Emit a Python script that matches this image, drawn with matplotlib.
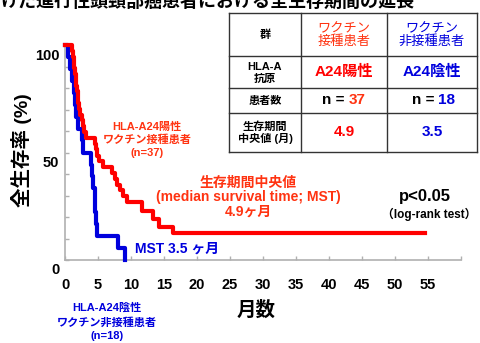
import matplotlib
matplotlib.use("Agg")
import matplotlib.pyplot as plt
import matplotlib.transforms as mtransforms

plt.rcParams['font.family'] = ['Liberation Sans', 'Noto Sans CJK JP', 'DejaVu Sans']

# Kaplan-Meier step points (months, % surviving)
vacc_months = [0, 1.0, 1.2, 1.3, 1.4, 1.5, 1.6, 1.7, 1.8, 1.9, 2.0, 2.1, 2.3, 2.5,
               2.7, 2.9, 3.2, 4.5, 4.7, 4.9, 5.2, 5.7, 7.1, 7.5, 7.9, 8.3, 8.8,
               9.4, 11.7, 13.4, 14.2, 16.4, 54.5]
vacc_surv = [100, 97.3, 94.6, 91.9, 89.2, 86.5, 83.8, 81.1, 78.4, 75.7, 73.0, 70.3,
             67.6, 64.9, 62.2, 59.5, 56.8, 54.1, 51.4, 48.6, 45.9, 43.2, 40.5, 37.8,
             35.1, 32.4, 29.7, 27.0, 23.0, 18.9, 15.5, 12.5, 12.5]

ctrl_months = [0, 0.5, 0.8, 1.1, 1.3, 1.5, 1.7, 2.0, 2.6, 2.8, 3.9, 4.1, 4.3, 4.5,
               4.6, 4.7, 4.8, 8.0, 9.1]
ctrl_surv = [100, 94.4, 88.9, 83.3, 77.8, 72.2, 66.7, 61.1, 55.6, 50.0, 44.4, 38.9,
             33.3, 27.8, 22.2, 16.7, 11.1, 5.6, 0]

x_ticks = list(range(0, 61, 5))
x_labels = [str(v) for v in range(0, 56, 5)] + ['']
y_ticks = list(range(0, 101, 10))
y_labels = ['0', '', '', '', '', '50', '', '', '', '', '100']

RED = '#ff0000'
ORANGE = '#ff3311'
BLUE = '#0000dd'

fig = plt.figure(figsize=(4.8, 3.43), dpi=100)
ax = fig.add_axes([65 / 480, 1 - 260 / 343, 396 / 480, 215 / 343])

ax.step(ctrl_months, ctrl_surv, where='post', color=BLUE, lw=3, clip_on=False, zorder=3)
ax.step(vacc_months, vacc_surv, where='post', color=RED, lw=3, clip_on=False, zorder=4)

ax.set_xlim(0, 60)
ax.set_ylim(0, 100)
for side in ('top', 'right'):
    ax.spines[side].set_visible(False)
for side in ('left', 'bottom'):
    ax.spines[side].set_color('#b0b0b0')
    ax.spines[side].set_linewidth(1.2)
ax.set_xticks(x_ticks, x_labels)
ax.set_yticks(y_ticks, y_labels)
ax.tick_params(direction='in', color='#b0b0b0', length=3, width=1,
               labelsize=10.5, pad=4)
ax.tick_params(axis='x', pad=13)
for lab in ax.get_xticklabels() + ax.get_yticklabels():
    lab.set_fontweight('bold')
shift = mtransforms.ScaledTranslation(0, -0.09, fig.dpi_scale_trans)
for lab in ax.get_yticklabels():
    lab.set_transform(lab.get_transform() + shift)

# overlay in pixel coordinates for the annotations and the table
ov = fig.add_axes([0, 0, 1, 1], zorder=5)
ov.set_xlim(0, 480)
ov.set_ylim(343, 0)
ov.axis('off')

ov.text(0, 7, 'けた進行性頭頸部癌患者における全生存期間の延長', fontsize=13,
        fontweight='bold', ha='left', va='baseline')
ov.text(22, 150, '全生存率 (%)', fontsize=14, fontweight='bold', rotation=90,
        ha='center', va='center')
ov.text(256, 310, '月数', fontsize=14, fontweight='bold', ha='center', va='center')

ov.text(147, 140, 'HLA-A24陽性\nワクチン接種患者\n(n=37)', color=ORANGE, fontsize=8,
        fontweight='bold', ha='center', va='center', linespacing=1.35)
ov.text(248, 197, '生存期間中央値\n(median survival time; MST)\n4.9ヶ月', color=ORANGE,
        fontsize=10, fontweight='bold', ha='center', va='center', linespacing=1.05)
ov.text(135, 249, 'MST 3.5 ヶ月', color=BLUE, fontsize=10, fontweight='bold',
        ha='left', va='center')
ov.text(425, 196, 'p<0.05', fontsize=12, fontweight='bold', ha='center', va='center')
ov.text(429, 214, '（log-rank test）', fontsize=8.5, fontweight='bold',
        ha='center', va='center')
ov.text(107, 322, 'HLA-A24陰性\nワクチン非接種患者\n(n=18)', color=BLUE, fontsize=8,
        fontweight='bold', ha='center', va='center', linespacing=1.45)

# table
col_edges = [229, 301, 387, 477]
row_edges = [13, 56, 88, 113, 152]
for x in col_edges:
    ov.plot([x, x], [row_edges[0], row_edges[-1]], color='#333333', lw=1)
for y in row_edges:
    ov.plot([col_edges[0], col_edges[-1]], [y, y], color='#333333', lw=1)

cx = [(a + b) / 2 for a, b in zip(col_edges[:-1], col_edges[1:])]
cy = [(a + b) / 2 for a, b in zip(row_edges[:-1], row_edges[1:])]

ov.text(cx[0], cy[0], '群', fontsize=8, fontweight='bold', ha='center', va='center')
ov.text(cx[1], cy[0] + 1, 'ワクチン\n接種患者', color=ORANGE, fontsize=9.5,
        ha='center', va='center', linespacing=1.0)
ov.text(cx[2], cy[0] + 1, 'ワクチン\n非接種患者', color=BLUE, fontsize=9.5,
        ha='center', va='center', linespacing=1.0)

ov.text(cx[0], cy[1] + 1, 'HLA-A\n抗原', fontsize=8, fontweight='bold',
        ha='center', va='center', linespacing=1.2)
ov.text(cx[1], cy[1], 'A24陽性', color=RED, fontsize=11, fontweight='bold',
        ha='center', va='center')
ov.text(cx[2], cy[1], 'A24陰性', color=BLUE, fontsize=11, fontweight='bold',
        ha='center', va='center')

ov.text(cx[0], cy[2], '患者数', fontsize=8, fontweight='bold', ha='center', va='center')
ov.text(345, cy[2], 'n =', fontsize=11, fontweight='bold', ha='right', va='center')
ov.text(349, cy[2], '37', color=ORANGE, fontsize=11, fontweight='bold',
        ha='left', va='center')
ov.text(434, cy[2], 'n =', fontsize=11, fontweight='bold', ha='right', va='center')
ov.text(438, cy[2], '18', color=BLUE, fontsize=11, fontweight='bold',
        ha='left', va='center')

ov.text(cx[0], cy[3], '生存期間\n中央値 (月)', fontsize=8, fontweight='bold',
        ha='center', va='center', linespacing=1.1)
ov.text(cx[1], cy[3], '4.9', color=RED, fontsize=11, fontweight='bold',
        ha='center', va='center')
ov.text(cx[2], cy[3], '3.5', color=BLUE, fontsize=11, fontweight='bold',
        ha='center', va='center')

fig.savefig('out.png', dpi=100, facecolor='white')
